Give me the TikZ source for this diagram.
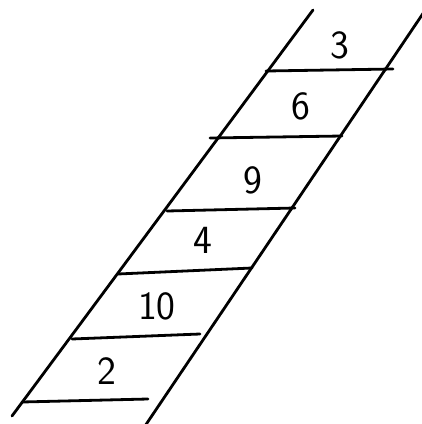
\documentclass[tikz,border=0pt]{standalone}
\usepackage{tikz}

\begin{document}
\begin{tikzpicture}[x=1pt,y=-1pt,
   rail/.style={line width=2.8pt,line cap=round},
   rung/.style={line width=2.8pt,line cap=round},
   num/.style={font=\sffamily\fontsize{40}{46}\selectfont,inner sep=0pt}]
  \useasboundingbox (0,0) rectangle (422,424);
  \draw[rail] (313,10) -- (12,416);
  \draw[rail] (424,12) -- (145,426);
  \draw[rung] (266,71) -- (393,69);
  \draw[rung] (210,138) -- (342,136);
  \draw[rung] (167,211) -- (295,208);
  \draw[rung] (118,274) -- (252,268);
  \draw[rung] (72,339) -- (200,334);
  \draw[rung] (22,402) -- (148,399);
  \node[num] (c3)  at (340,45)  {3};
  \node[num] (c6)  at (301,106) {6};
  \node[num] (c9)  at (253,180) {9};
  \node[num] (c4)  at (203,240) {4};
  \node[num] (c10) at (157,306) {10};
  \node[num] (c2)  at (107,371) {2};
\end{tikzpicture}
\end{document}
